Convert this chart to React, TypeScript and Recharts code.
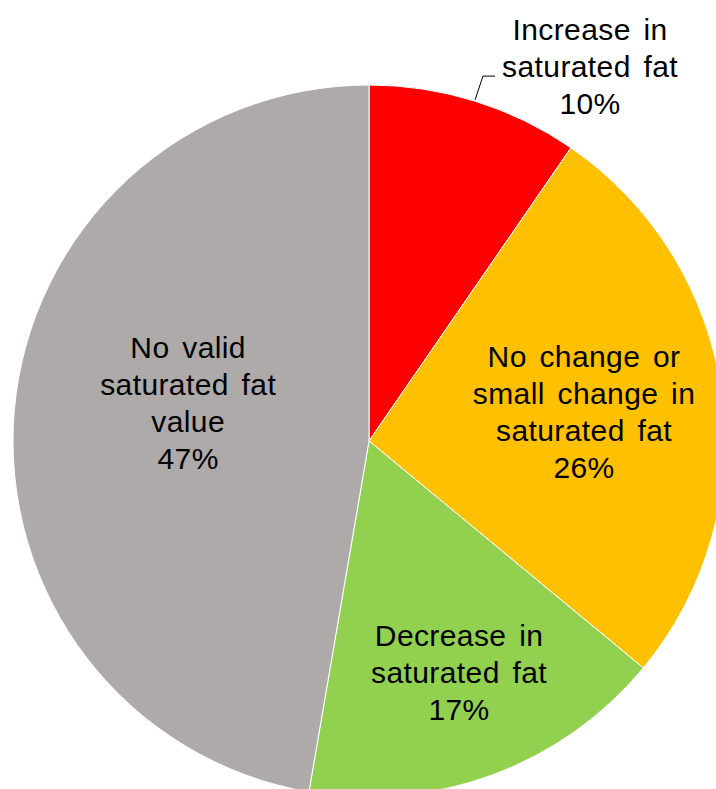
import React from 'react';
import { PieChart, Pie, Cell } from 'recharts';

// slice order: clockwise from 12 o'clock
const categories = [
  'Increase in saturated fat',
  'No change or small change in saturated fat',
  'Decrease in saturated fat',
  'No valid saturated fat value',
];
const categoryLines = [
  ['Increase in', 'saturated fat'],
  ['No change or', 'small change in', 'saturated fat'],
  ['Decrease in', 'saturated fat'],
  ['No valid', 'saturated fat', 'value'],
];
const shares = [9.6, 26.4, 16.7, 47.3];
const percentLabels = ['10%', '26%', '17%', '47%'];
const colors = ['#FF0000', '#FFC000', '#92D050', '#AEAAAA'];

const data = categories.map((name, i) => ({ name, value: shares[i] }));

// label anchor (first baseline) as a fraction of the radius, from the centre
const labelPos = [
  { x: 0.621, y: -1.126 },
  { x: 0.604, y: -0.208 },
  { x: 0.253, y: 0.576 },
  { x: -0.508, y: -0.233 },
];

const LINE_H = 37;

const renderLabel = (props: any) => {
  const { cx, cy, outerRadius, index } = props;
  const pos = labelPos[index];
  const x = cx + pos.x * outerRadius;
  const y = cy + pos.y * outerRadius;
  const lines = [...categoryLines[index], percentLabels[index]];
  return (
    <g key={`lbl-${index}`}>
      {index === 0 && (
        <polyline
          points={`${cx + 0.298 * outerRadius},${cy - 0.958 * outerRadius} ${cx + 0.32 * outerRadius},${cy - 1.025 * outerRadius} ${cx + 0.354 * outerRadius},${cy - 1.025 * outerRadius}`}
          fill="none"
          stroke="#000"
          strokeWidth={1}
        />
      )}
      <text
        x={x}
        y={y}
        textAnchor="middle"
        fill="#000"
        fontFamily="'Liberation Sans', Arial, sans-serif"
        fontSize={30}
        style={{ letterSpacing: 0.4, wordSpacing: 4 }}
      >
        {lines.map((l, i) => (
          <tspan key={i} x={x} dy={i === 0 ? 0 : LINE_H}>
            {l}
          </tspan>
        ))}
      </text>
    </g>
  );
};

export default function App() {
  return (
    <div style={{ position: 'absolute', left: 0, top: 0, width: 716, height: 789, background: '#fff', overflow: 'hidden' }}>
      <PieChart width={716} height={789} margin={{ top: 0, right: 0, bottom: 0, left: 0 }} style={{ overflow: 'visible' }}>
        <Pie
          data={data}
          dataKey="value"
          nameKey="name"
          cx={369}
          cy={441}
          outerRadius={356}
          startAngle={90}
          endAngle={-270}
          stroke="#fff"
          strokeWidth={1}
          label={renderLabel}
          labelLine={false}
          isAnimationActive={false}
        >
          {data.map((d, i) => (
            <Cell key={d.name} fill={colors[i]} />
          ))}
        </Pie>
      </PieChart>
    </div>
  );
}
